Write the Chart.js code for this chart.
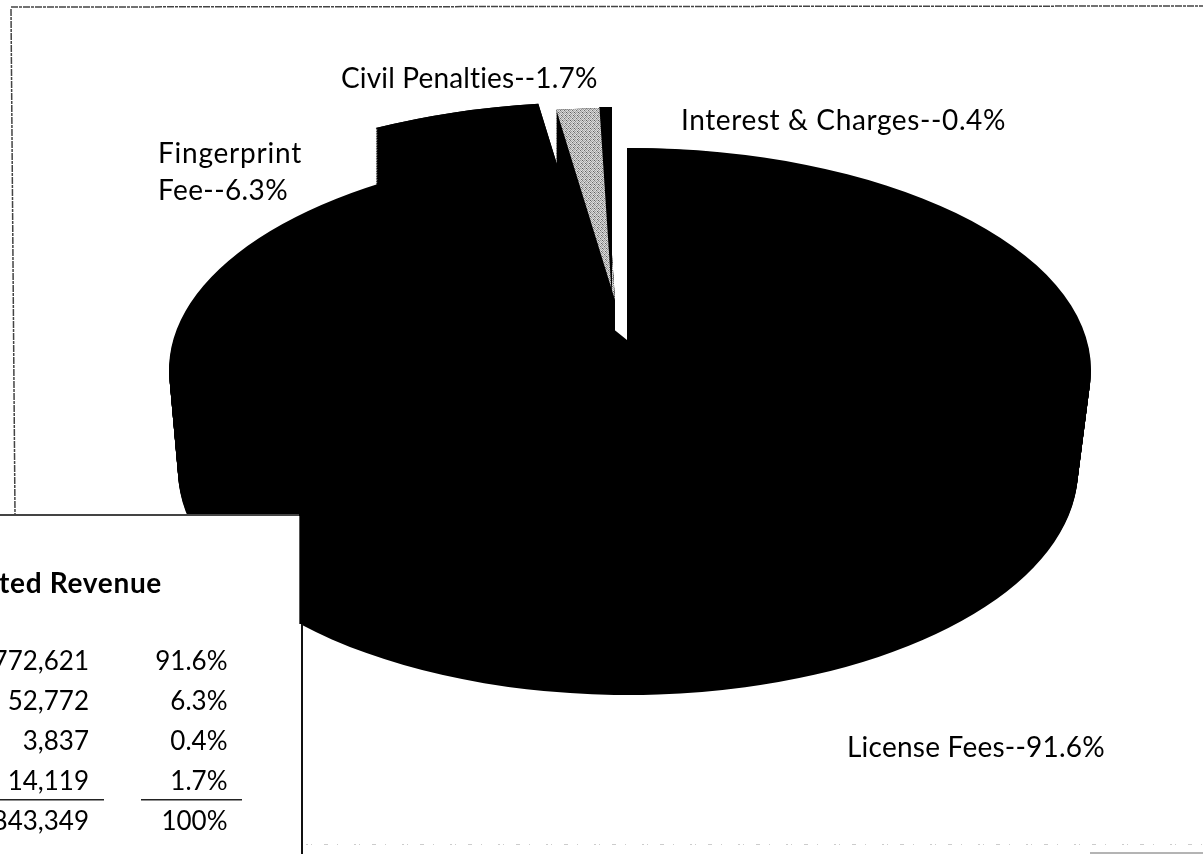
<!DOCTYPE html>
<html>
<head>
<meta charset="utf-8">
<title>Projected Revenue</title>
<script src="https://cdn.jsdelivr.net/npm/chart.js@4"></script>
<style>
  html, body { margin: 0; padding: 0; background: #fff; }
  canvas { display: block; }
</style>
</head>
<body>
<canvas id="myChart" width="1203" height="854"></canvas>
<script>
// Pie data, clockwise from 12 o'clock
var categories = ["License Fees", "Fingerprint Fee", "Civil Penalties", "Interest & Charges"];
var revenue = [772621, 52772, 14119, 3837];
var shares = ["91.6%", "6.3%", "1.7%", "0.4%"];

// The small table, cut off by the left edge of the page
var tableTitle = "ted Revenue";
var tableAmounts = ["772,621", "52,772", "3,837", "14,119", "843,349"];
var tableShares = ["91.6%", "6.3%", "0.4%", "1.7%", "100%"];

var FONT = "Lato, Carlito, sans-serif";
var INK = "#000";

// Ellipses for the fake 3D. License gets a wall running from wallBottom up to wallTop,
// then a smaller face that only sets where the point of the wedge sits.
// The other slices are pulled out by their own shift.
var wallBottom = { x: 628, y: 470, rx: 450, ry: 225 };
var wallTop = { x: 630, y: 370, rx: 461, ry: 222 };
var face = { x: 627, y: 340, rx: 410, ry: 192 };
var pulledFace = { x: 627, y: 340, rx: 440, ry: 192 };
var pulledShift = [null, [-30, -46], [-12, -40], [-15, -41]];
var pulledDepth = 100;
var wallLayers = 60;

function lerp(a, b, t) {
  return a + (b - a) * t;
}

// Draw one arc of the chart squeezed onto an ellipse
function drawOnEllipse(ctx, arc, e, fill) {
  var r = arc.outerRadius;
  var saved = arc.options;
  ctx.save();
  ctx.translate(e.x, e.y);
  ctx.scale(e.rx / r, e.ry / r);
  ctx.translate(-arc.x, -arc.y);
  if (fill) {
    arc.options = Object.assign({}, saved, { backgroundColor: fill, borderColor: fill });
  }
  arc.draw(ctx);
  arc.options = saved;
  ctx.restore();
}

// Stippled grey for the Civil Penalties top face
function stipple(ctx, sx, sy) {
  var rows = ["f0a0f060", "90f080e0", "f050f0a0", "a0e090f0", "f090e040", "70f0a0f0", "f0a0f080", "90f040f0"];
  var tile = document.createElement("canvas");
  tile.width = 8;
  tile.height = 8;
  var t = tile.getContext("2d");
  for (var y = 0; y < 8; y++) {
    for (var x = 0; x < 8; x++) {
      var v = rows[y].substr((x % 4) * 2, 2);
      t.fillStyle = "#" + v + v + v;
      t.fillRect(x, y, 1, 1);
    }
  }
  var p = ctx.createPattern(tile, "repeat");
  p.setTransform(new DOMMatrix().scale(sx, sy));
  return p;
}

var piePlugin = {
  id: "pie3d",
  beforeDatasetsDraw: function (chart) {
    var ctx = chart.ctx;
    var arcs = chart.getDatasetMeta(0).data;
    var i, k, t;

    // side walls of the slices that are pulled out
    for (i = 1; i < arcs.length; i++) {
      for (k = 0; k <= wallLayers; k++) {
        t = k / wallLayers;
        drawOnEllipse(ctx, arcs[i], {
          x: pulledFace.x + pulledShift[i][0],
          y: pulledFace.y + pulledShift[i][1] + pulledDepth * (1 - t),
          rx: pulledFace.rx,
          ry: pulledFace.ry
        }, INK);
      }
    }

    // wall of the big slice
    for (k = 0; k <= wallLayers; k++) {
      t = k / wallLayers;
      drawOnEllipse(ctx, arcs[0], {
        x: lerp(wallBottom.x, wallTop.x, t),
        y: lerp(wallBottom.y, wallTop.y, t),
        rx: lerp(wallBottom.rx, wallTop.rx, t),
        ry: lerp(wallBottom.ry, wallTop.ry, t)
      }, INK);
    }
    drawOnEllipse(ctx, arcs[0], face, INK);

    // top faces
    for (i = 1; i < arcs.length; i++) {
      var fill = INK;
      if (i === 2) {
        fill = stipple(ctx, arcs[i].outerRadius / pulledFace.rx, arcs[i].outerRadius / pulledFace.ry);
      }
      drawOnEllipse(ctx, arcs[i], {
        x: pulledFace.x + pulledShift[i][0],
        y: pulledFace.y + pulledShift[i][1],
        rx: pulledFace.rx,
        ry: pulledFace.ry
      }, fill);
    }
    return false;
  },
  afterDraw: function (chart) {
    var ctx = chart.ctx;
    ctx.save();
    drawFrame(ctx);
    drawLabels(ctx);
    drawTable(ctx);
    ctx.restore();
  }
};

function drawFrame(ctx) {
  ctx.strokeStyle = "#444";
  ctx.lineWidth = 1.5;
  ctx.setLineDash([7, 1, 3, 1]);
  ctx.beginPath();
  ctx.moveTo(11, 7);
  ctx.lineTo(1203, 6);
  ctx.moveTo(11, 9);
  ctx.lineTo(15, 514);
  ctx.stroke();

  ctx.strokeStyle = "#ccc";
  ctx.lineWidth = 1;
  ctx.setLineDash([2, 3, 1, 12, 4, 9, 1, 16]);
  ctx.beginPath();
  ctx.moveTo(306, 844.5);
  ctx.lineTo(1203, 844.5);
  ctx.stroke();

  ctx.setLineDash([]);
  ctx.strokeStyle = "#b4b4b4";
  ctx.lineWidth = 2;
  ctx.beginPath();
  ctx.moveTo(1090, 853);
  ctx.lineTo(1203, 853);
  ctx.stroke();
}

// Left aligned text, spaced out so that it runs to the wanted width
function fitText(ctx, text, x, y, width) {
  ctx.letterSpacing = "0px";
  var natural = ctx.measureText(text).width;
  ctx.letterSpacing = ((width - natural) / text.length).toFixed(3) + "px";
  ctx.fillText(text, x, y);
  ctx.letterSpacing = "0px";
}

function drawLabels(ctx) {
  ctx.fillStyle = INK;
  ctx.textAlign = "left";
  ctx.textBaseline = "alphabetic";
  ctx.font = "28px " + FONT;
  fitText(ctx, categories[2] + "--" + shares[2], 341, 88, 257);
  fitText(ctx, categories[3] + "--" + shares[3], 681, 130, 325);
  fitText(ctx, "Fingerprint", 158, 163, 144);
  fitText(ctx, "Fee--" + shares[1], 158, 200, 130);
  fitText(ctx, categories[0] + "--" + shares[0], 847, 757, 258);
}

function drawTable(ctx) {
  ctx.fillStyle = "#fff";
  ctx.fillRect(0, 516, 299, 338);
  ctx.fillRect(299, 624, 2, 230);

  ctx.fillStyle = "#444";
  ctx.fillRect(0, 514, 299, 2);
  ctx.fillStyle = "#111";
  ctx.fillRect(301, 624, 2, 230);
  ctx.fillStyle = "#555";
  ctx.fillRect(299, 516, 1, 108);

  ctx.fillStyle = INK;
  ctx.textAlign = "left";
  ctx.font = "bold 28px " + FONT;
  fitText(ctx, tableTitle, -1, 593, 163);

  ctx.textAlign = "right";
  ctx.font = "26px " + FONT;
  for (var i = 0; i < tableAmounts.length; i++) {
    ctx.fillText(tableAmounts[i], 89, 670 + i * 40);
    ctx.fillText(tableShares[i], 227.5, 670 + i * 40);
  }

  ctx.fillStyle = "#222";
  ctx.fillRect(0, 799, 104, 1.5);
  ctx.fillRect(141, 799, 101, 1.5);
}

var ctx = document.getElementById("myChart");
var myChart = new Chart(ctx, {
  type: "pie",
  data: {
    labels: categories,
    datasets: [
      {
        data: revenue,
        backgroundColor: [INK, INK, "#b8b8b8", INK],
        borderWidth: 0
      }
    ]
  },
  options: {
    responsive: false,
    animation: false,
    events: [],
    plugins: {
      legend: { display: false },
      tooltip: { enabled: false }
    }
  },
  plugins: [piePlugin]
});
</script>
</body>
</html>
